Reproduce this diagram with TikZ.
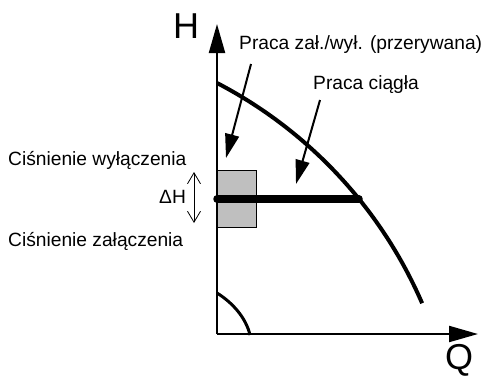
\documentclass[tikz,border=0pt]{standalone}
\usepackage{fontspec}
\setmainfont{Liberation Sans}
\usetikzlibrary{arrows.meta}
\begin{document}
\begin{tikzpicture}[x=1pt,y=-1pt,
  lbl/.style={inner sep=0pt,anchor=base west,font=\fontsize{19.2}{21}\selectfont},
  axlbl/.style={inner sep=0pt,font=\fontsize{36}{38}\selectfont},
  axisline/.style={line width=2.2pt,-{Triangle[length=29pt,width=16pt]}},
  pointer/.style={line width=2pt,-{Triangle[length=24pt,width=14pt]}},
  curveline/.style={line width=4pt},
  barline/.style={line width=7.5pt,line cap=round}]
\useasboundingbox (0,0) rectangle (485,376);
\clip (0,0) rectangle (485,376);
% gray box
\node (box) [draw=black,line width=1pt,fill=black!25,minimum width=39pt,minimum height=57pt,inner sep=0pt,anchor=north west] at (217,170) {};
% axes
\coordinate (O) at (217,334);
\coordinate (Htip) at (217,24);
\coordinate (Qtip) at (478,334);
\draw[axisline] (O) -- (Htip);
\draw[axisline] (O) -- (Qtip);
\node (H) [axlbl] at (186,26) {H};
\node (Q) [axlbl,anchor=base] at (459,369) {Q};
% pump curve
\draw[curveline,domain=62.5:23.4,samples=60] plot ({9.7+449.4*cos(\x)},{481.7-449.4*sin(\x)});
% small curve
\draw[line width=3pt] (217,293) .. controls (233,303) and (246,318) .. (250,335);
% thick bar
\coordinate (barL) at (217,199);
\coordinate (barR) at (359,199);
\draw[barline] (barL) -- (barR);
% labels
\node (t1) [lbl] at (239,49) {Praca zał./wył. (przerywana)};
\node (t2) [lbl] at (313,89) {Praca ciągła};
\node (t3) [lbl] at (8,165) {Ciśnienie wyłączenia};
\node (t4) [lbl] at (8,246) {Ciśnienie załączenia};
\node (dh) [lbl] at (159,203) {ΔH};
% pointers
\coordinate (p1s) at (251,64);
\coordinate (p1e) at (226,158);
\coordinate (p2s) at (320,100);
\coordinate (p2e) at (296,184);
\draw[pointer] (p1s) -- (p1e);
\draw[pointer] (p2s) -- (p2e);
% delta H arrow
\coordinate (dA) at (194,172);
\coordinate (dB) at (194,223);
\draw[line width=0.8pt,{Straight Barb[length=11pt,width=13pt,line width=0.8pt]}-{Straight Barb[length=11pt,width=13pt,line width=0.8pt]}] (dA) -- (dB);
\end{tikzpicture}
\end{document}
